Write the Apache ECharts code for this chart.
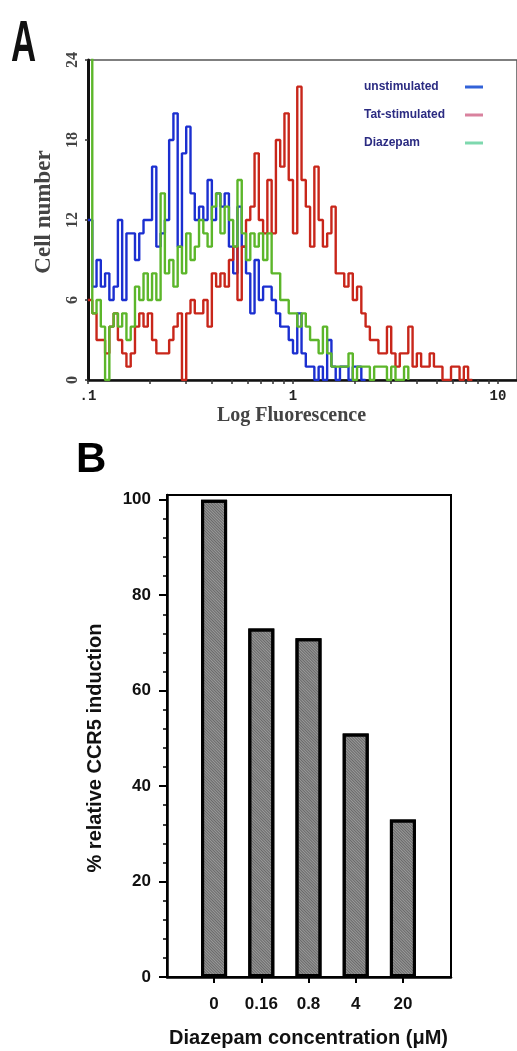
<!DOCTYPE html>
<html>
<head>
<meta charset="utf-8">
<script src="https://cdn.jsdelivr.net/npm/echarts@6.0.0/dist/echarts.min.js"></script>
<style>
html, body { margin: 0; padding: 0; background: #ffffff; }
#chart { width: 517px; height: 1051px; }
</style>
</head>
<body>
<div id="chart"></div>
<script>
// ---------------- Panel A : flow cytometry histogram ----------------
// instrument channel mapping (log scale): channel k sits at FIRST_CHANNEL * 10^(k / CHANNELS_PER_DECADE)
const CHANNELS_PER_DECADE = 48;
const FIRST_CHANNEL = 0.1;
const X_MAX_A = 12.38;

// cell counts per channel
const UNSTIMULATED = [12,7,9,7,8,6,7,12,6,11, 11,9,11,12,12,16,10,11,12,18, 20,10,17,19,14,12,13,12,15,12,
  14,13,14,10,8,13,10,8,5,9, 6,7,7,6,5,4,4,3,2,5, 2,1,1,0,1,0,3,1,0,1, 1,0,1,1,0];
const TAT_STIMULATED = [6,5,3,3,2,4,5,3,2,1, 2,4,5,4,5,3,2,2,2,3, 4,5,0,5,6,5,5,6,4,8,
  7,8,7,9,10,6,10,12,13,17, 12,11,15,11,18,16,20,15,11,22, 15,13,10,16,12,10,11,13,8,8,
  7,8,6,7,5,4,3,3,2,2, 4,2,1,2,2,4,1,2,1,1, 2,1,1,0,0,1,1,0,1,0];
const DIAZEPAM = [30,5,6,4,0,4,5,4,5,3, 4,7,6,8,6,8,6,14,8,9, 7,10,8,11,9,10,12,11,10,13,
  14,11,13,12,10,15,11,9,11,10, 11,9,11,8,8,6,6,5,5,4, 5,4,3,3,2,4,2,1,1,1,
  1,2,0,1,1,1,0,1,1,1, 0,1,0,0,1];

const X_TICK_VALUES_A = [0.1,0.2,0.3,0.4,0.5,0.6,0.7,0.8,0.9,1,2,3,4,5,6,7,8,9,10];
const X_LABEL_VALUES_A = [0.1, 1, 10];
const X_LABEL_TEXT_A = ['.1', '1', '10'];
const Y_TICKS_A = [0, 6, 12, 18, 24];

// ---------------- Panel B : bar chart ----------------
const CONCENTRATIONS = ['0', '0.16', '0.8', '4', '20'];
const INDUCTION = [100, 73, 71, 51, 33];
const Y_MAJOR_B = [0, 20, 40, 60, 80, 100];
const Y_MINOR_B = [0,4,8,12,16,20,24,28,32,36,40,44,48,52,56,60,64,68,72,76,80,84,88,92,96,100];

function channelValue(k) { return FIRST_CHANNEL * Math.pow(10, k / CHANNELS_PER_DECADE); }
function toSteps(counts) {
  const pts = counts.map((c, k) => [channelValue(k), c]);
  pts.push([channelValue(counts.length), 0]);
  return pts;
}
function labelA(v) {
  for (let i = 0; i < X_LABEL_VALUES_A.length; i++) {
    if (Math.abs(v - X_LABEL_VALUES_A[i]) < 1e-6 * X_LABEL_VALUES_A[i] + 1e-9) return X_LABEL_TEXT_A[i];
  }
  return '';
}

const SERIF = '"Liberation Serif", "Times New Roman", serif';
const SANS = '"Liberation Sans", Arial, sans-serif';

const chart = echarts.init(document.getElementById('chart'), null, { renderer: 'canvas' });

const histLine = (name, data, color) => ({
  type: 'line', name: name, xAxisIndex: 0, yAxisIndex: 0,
  step: 'end', symbol: 'none', showSymbol: false, clip: true, silent: true,
  data: toSteps(data),
  lineStyle: { color: color, width: 2.4 },
  itemStyle: { color: color },
  emphasis: { disabled: true }
});

const option = {
  animation: false,
  backgroundColor: '#ffffff',
  graphic: [
    { type: 'text', x: 11, y: 16, scaleX: 0.6,
      style: { text: 'A', font: 'bold 58px "Liberation Sans", Arial, sans-serif', fill: '#111', verticalAlign: 'top' } },
    { type: 'text', x: 76, y: 439,
      style: { text: 'B', font: 'bold 42px "Liberation Sans", Arial, sans-serif', fill: '#000', verticalAlign: 'top' } }
  ],
  legend: {
    left: 359, top: 76, orient: 'vertical', align: 'right',
    itemWidth: 18, itemHeight: 3, itemGap: 16, selectedMode: false, icon: 'rect',
    formatter: '{t|{name}}',
    textStyle: {
      rich: { t: { width: 96, align: 'left', fontFamily: SANS, fontWeight: 'bold', fontSize: 12, color: '#2b2b82', lineHeight: 14 } }
    },
    data: [
      { name: 'unstimulated', itemStyle: { color: '#3262d8' } },
      { name: 'Tat-stimulated', itemStyle: { color: '#d9829e' } },
      { name: 'Diazepam', itemStyle: { color: '#7ed8ae' } }
    ]
  },
  grid: [
    { left: 88, right: 0, top: 60, bottom: 671, show: true, borderColor: '#555', borderWidth: 1.5 },
    { left: 167, right: 66, top: 495, bottom: 74, show: true, borderColor: '#000', borderWidth: 2 },
    { left: 190.5, right: 90.5, top: 495, bottom: 74 }
  ],
  xAxis: [
    { type: 'log', gridIndex: 0, logBase: 10, min: FIRST_CHANNEL, max: X_MAX_A,
      axisLine: { show: true, onZero: false, lineStyle: { color: '#111', width: 2.5 } },
      axisTick: { show: true, customValues: X_TICK_VALUES_A, length: 4, lineStyle: { color: '#333', width: 1.5 } },
      axisLabel: { customValues: X_LABEL_VALUES_A, formatter: labelA, fontFamily: '"Liberation Mono", monospace',
        fontWeight: 'bold', fontSize: 14, color: '#222', margin: 9, padding: [0, 0, 0, 0] },
      splitLine: { show: false }, minorTick: { show: false },
      name: 'Log Fluorescence', nameLocation: 'middle', nameGap: 26,
      nameTextStyle: { fontFamily: SERIF, fontWeight: 'bold', fontSize: 20, color: '#444', padding: [0, 22, 0, 0] }
    },
    { type: 'value', gridIndex: 1, min: 0, max: 1,
      axisLine: { show: true, onZero: false, lineStyle: { color: '#000', width: 2.5 } },
      axisTick: { show: false }, axisLabel: { show: false }, splitLine: { show: false }
    },
    { type: 'category', gridIndex: 2, data: CONCENTRATIONS,
      axisLine: { show: false },
      axisTick: { show: true, alignWithLabel: true, length: 6, lineStyle: { color: '#000', width: 2 } },
      axisLabel: { fontFamily: SANS, fontWeight: 'bold', fontSize: 17, color: '#111', margin: 19 },
      name: 'Diazepam concentration (μM)', nameLocation: 'middle', nameGap: 51,
      nameTextStyle: { fontFamily: SANS, fontWeight: 'bold', fontSize: 20, color: '#111' }
    }
  ],
  yAxis: [
    { type: 'value', gridIndex: 0, min: 0, max: 24, interval: 6,
      axisLine: { show: true, onZero: false, lineStyle: { color: '#111', width: 3 } },
      axisTick: { show: true, length: 3, lineStyle: { color: '#333', width: 1.5 } },
      axisLabel: { rotate: 90, fontFamily: SERIF, fontWeight: 'bold', fontSize: 16, color: '#444', margin: 7 },
      splitLine: { show: false },
      name: 'Cell number', nameLocation: 'middle', nameGap: 32,
      nameTextStyle: { fontFamily: SERIF, fontWeight: 'bold', fontSize: 23, color: '#444', padding: [0, 0, 0, 16] }
    },
    { type: 'value', gridIndex: 1, position: 'left', min: 0, max: 101,
      axisLine: { show: true, onZero: false, lineStyle: { color: '#000', width: 2.5 } },
      axisTick: { show: true, customValues: Y_MAJOR_B, length: 8, lineStyle: { color: '#000', width: 2 } },
      axisLabel: { customValues: Y_MAJOR_B, fontFamily: SANS, fontWeight: 'bold', fontSize: 17, color: '#111', margin: 16 },
      splitLine: { show: false },
      name: '% relative CCR5 induction', nameLocation: 'middle', nameGap: 62,
      nameTextStyle: { fontFamily: SANS, fontWeight: 'bold', fontSize: 20, color: '#111', padding: [0, 24, 0, 0] }
    },
    { type: 'value', gridIndex: 1, position: 'left', offset: 0, min: 0, max: 101,
      axisLine: { show: false },
      axisTick: { show: true, customValues: Y_MINOR_B, length: 4, lineStyle: { color: '#000', width: 1.5 } },
      axisLabel: { show: false }, splitLine: { show: false }
    },
    { type: 'value', gridIndex: 2, min: 0, max: 101, show: false }
  ],
  series: [
    histLine('unstimulated', UNSTIMULATED, '#1b2fd0'),
    histLine('Tat-stimulated', TAT_STIMULATED, '#c8261a'),
    histLine('Diazepam', DIAZEPAM, '#5cb62a'),
    { type: 'bar', name: 'CCR5 induction', xAxisIndex: 2, yAxisIndex: 3, data: INDUCTION, barWidth: 26, silent: true,
      itemStyle: { color: '#9a9a9a', borderColor: '#000', borderWidth: 3,
        decal: { symbol: 'rect', symbolSize: 1, dashArrayX: [1, 0], dashArrayY: [1, 1], rotation: Math.PI / 4, color: 'rgba(0,0,0,0.32)' } }
    }
  ]
};

chart.setOption(option);
</script>
</body>
</html>
